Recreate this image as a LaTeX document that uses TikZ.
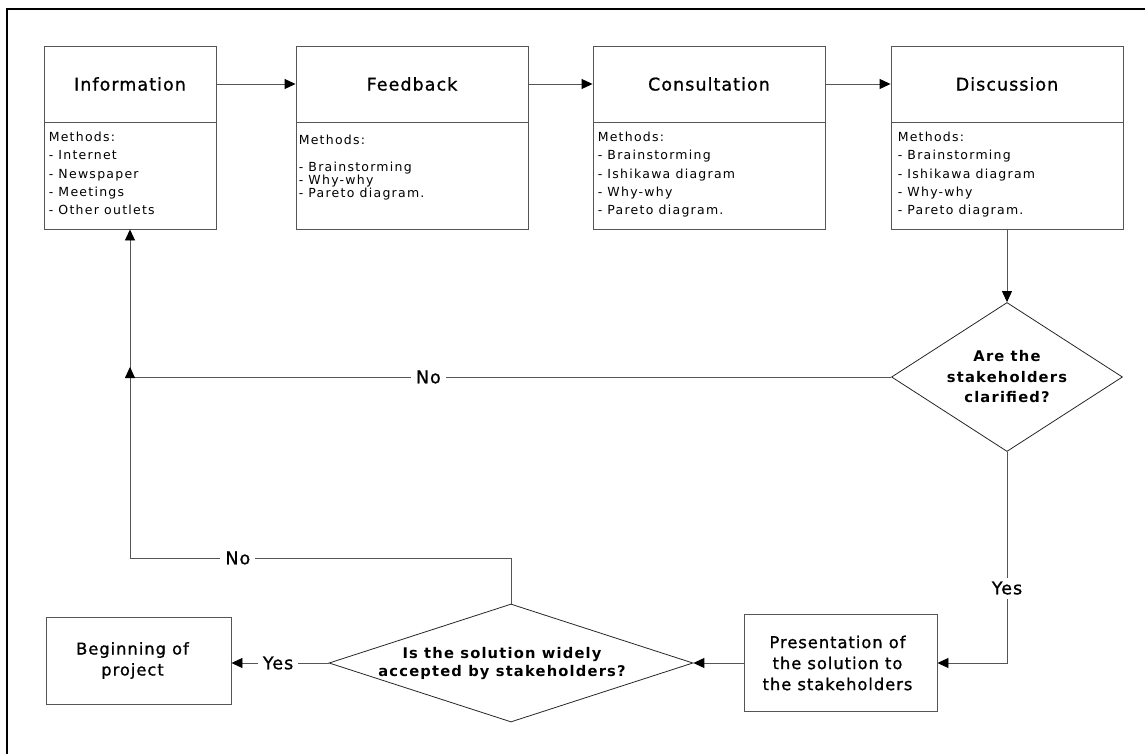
\documentclass[tikz,border=0pt]{standalone}
\usepackage{fontspec}
\setmainfont{DejaVu Sans}
\usetikzlibrary{arrows.meta,shapes.geometric}

% tracked faces for the different text sizes
\newfontfamily\trackA[LetterSpace=6,FakeBold=1]{DejaVu Sans}
\newfontfamily\trackB[LetterSpace=8]{DejaVu Sans}
\newfontfamily\trackC[LetterSpace=10]{DejaVu Sans}

\definecolor{linegray}{HTML}{555555}

\tikzset{
  stagebox/.style={draw=linegray, line width=0.9pt, inner sep=0pt},
  titletext/.style={font=\trackA\fontsize{17.5}{21}\selectfont},
  listtext/.style={align=left, inner sep=0pt, anchor=north west,
                   font=\trackC\fontsize{12.5}{18.4}\selectfont},
  decision/.style={diamond, draw=black!85, line width=0.8pt, inner sep=0pt},
  dectext/.style={align=center, inner sep=0pt,
                  font=\trackB\bfseries\fontsize{14.7}{20.5}\selectfont},
  boxtext/.style={align=center, inner sep=0pt,
                  font=\trackA\fontsize{16.3}{21}\selectfont},
  lbl/.style={fill=white, inner xsep=5pt, inner ysep=4pt,
              font=\trackA\fontsize{17.5}{21}\selectfont},
  flow/.style={draw=linegray, line width=0.9pt,
               -{Triangle[length=11pt,width=10pt,color=black]}},
}

\begin{document}
\begin{tikzpicture}[x=1pt,y=-1pt]
\useasboundingbox (0,0) rectangle (1145,754);

% outer frame
\draw[line width=2pt] (7,754) -- (7,9) -- (1145,9);

% ---- stage boxes: title part and methods part ----
\node[stagebox, minimum width=172pt, minimum height=76pt, titletext] (info) at (130,84) {Information};
\node[stagebox, minimum width=172pt, minimum height=107pt] (info-b) at (130,175.5) {};
\node[listtext] (info-m) at ([shift={(5,10)}]info-b.north west)
  {Methods:\\- Internet\\- Newspaper\\- Meetings\\- Other outlets};

\node[stagebox, minimum width=232pt, minimum height=76pt, titletext] (feed) at (412,84) {Feedback};
\node[stagebox, minimum width=232pt, minimum height=107pt] (feed-b) at (412,175.5) {};
\node[listtext, font=\trackC\fontsize{12.5}{13}\selectfont] (feed-m) at ([shift={(3,13)}]feed-b.north west)
  {Methods:\\[14pt]- Brainstorming\\- Why-why\\- Pareto diagram.};

\node[stagebox, minimum width=232pt, minimum height=76pt, titletext] (cons) at (709,84) {Consultation};
\node[stagebox, minimum width=232pt, minimum height=107pt] (cons-b) at (709,175.5) {};
\node[listtext] (cons-m) at ([shift={(5,10)}]cons-b.north west)
  {Methods:\\- Brainstorming\\- Ishikawa diagram\\- Why-why\\- Pareto diagram.};

\node[stagebox, minimum width=232pt, minimum height=76pt, titletext] (dis) at (1007,84) {Discussion};
\node[stagebox, minimum width=232pt, minimum height=107pt] (dis-b) at (1007,175.5) {};
\node[listtext] (dis-m) at ([shift={(7,10)}]dis-b.north west)
  {Methods:\\- Brainstorming\\- Ishikawa diagram\\- Why-why\\- Pareto diagram.};

% ---- decisions ----
\node[decision, minimum width=231pt, minimum height=149pt] (q1) at (1007,377) {};
\node[dectext] (q1-t) at (q1) {Are the\\stakeholders\\clarified?};

\node[decision, minimum width=364pt, minimum height=118pt] (q2) at (511,663) {};
\node[dectext, font=\trackB\bfseries\fontsize{14.7}{18}\selectfont] (q2-t) at ([shift={(-9,0)}]q2)
  {Is the solution widely\\accepted by stakeholders?};

% ---- end boxes ----
\node[stagebox, minimum width=193pt, minimum height=97pt] (pres) at (840.5,663) {};
\node[boxtext] (pres-t) at ([shift={(-3,0)}]pres) {Presentation of\\the solution to\\the stakeholders};

\node[stagebox, minimum width=185pt, minimum height=87pt] (begin) at (138.5,660.5) {};
\node[boxtext] (begin-t) at ([shift={(-6,0)}]begin) {Beginning of\\project};

% ---- connectors ----
\draw[flow] (info) -- (feed);
\draw[flow] (feed) -- (cons);
\draw[flow] (cons) -- (dis);
\draw[flow] (dis-b.south) -- (q1.north);

\coordinate (j1) at (info-b.south |- q1.west);
\coordinate (j1tip) at (130,367);
\coordinate (j2) at (130,558);
\coordinate (k2) at (q2.north |- j2);

\draw[flow] (q1.west) -- node[lbl, pos=0.608] (no1) {No} (j1) -- (info-b.south);
\draw[flow] (q2.north) -- (k2) -- node[lbl, pos=0.717] (no2) {No} (j2) -- (j1tip);

\draw[flow] (q1.south) -- node[lbl, pos=0.645] (yes1) {Yes} (q1.south |- pres.east) -- (pres.east);
\draw[flow] (pres.west) -- (q2.east);
\draw[flow] (q2.west) -- node[lbl, pos=0.52] (yes2) {Yes} (q2.west -| begin.east);

\end{tikzpicture}
\end{document}
